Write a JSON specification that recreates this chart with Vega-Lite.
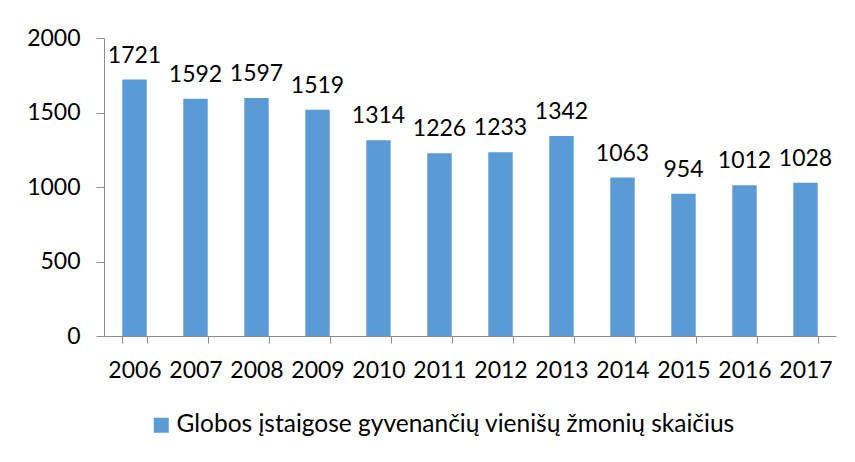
{
  "$schema": "https://vega.github.io/schema/vega-lite/v6.json",
  "autosize": {"type": "none"},
  "width": 732,
  "height": 298,
  "padding": {"left": 104, "top": 38, "right": 19, "bottom": 126},
  "background": "white",
  "config": {
    "font": "Lato",
    "view": {"stroke": null}
  },
  "data": {
    "values": [
      {"year": "2006", "value": 1721, "series": "Globos įstaigose gyvenančių vienišų žmonių skaičius"},
      {"year": "2007", "value": 1592, "series": "Globos įstaigose gyvenančių vienišų žmonių skaičius"},
      {"year": "2008", "value": 1597, "series": "Globos įstaigose gyvenančių vienišų žmonių skaičius"},
      {"year": "2009", "value": 1519, "series": "Globos įstaigose gyvenančių vienišų žmonių skaičius"},
      {"year": "2010", "value": 1314, "series": "Globos įstaigose gyvenančių vienišų žmonių skaičius"},
      {"year": "2011", "value": 1226, "series": "Globos įstaigose gyvenančių vienišų žmonių skaičius"},
      {"year": "2012", "value": 1233, "series": "Globos įstaigose gyvenančių vienišų žmonių skaičius"},
      {"year": "2013", "value": 1342, "series": "Globos įstaigose gyvenančių vienišų žmonių skaičius"},
      {"year": "2014", "value": 1063, "series": "Globos įstaigose gyvenančių vienišų žmonių skaičius"},
      {"year": "2015", "value": 954, "series": "Globos įstaigose gyvenančių vienišų žmonių skaičius"},
      {"year": "2016", "value": 1012, "series": "Globos įstaigose gyvenančių vienišų žmonių skaičius"},
      {"year": "2017", "value": 1028, "series": "Globos įstaigose gyvenančių vienišų žmonių skaičius"}
    ]
  },
  "encoding": {
    "x": {
      "field": "year",
      "type": "nominal",
      "scale": {"paddingInner": 0.6, "paddingOuter": 0.3},
      "axis": {
        "title": null,
        "labelAngle": 0,
        "labelFontSize": 23,
        "labelColor": "#000000",
        "labelPadding": 16,
        "tickBand": "extent",
        "tickSize": 7,
        "tickColor": "#8c8c8c",
        "domainColor": "#8c8c8c",
        "labelFont": "Lato"
      }
    },
    "y": {
      "field": "value",
      "type": "quantitative",
      "scale": {"domain": [0, 2000]},
      "axis": {
        "title": null,
        "values": [0, 500, 1000, 1500, 2000],
        "format": "d",
        "grid": false,
        "labelFontSize": 23,
        "labelColor": "#000000",
        "labelPadding": 16,
        "tickSize": 8,
        "tickColor": "#8c8c8c",
        "domainColor": "#8c8c8c",
        "labelFont": "Lato"
      }
    }
  },
  "layer": [
    {
      "mark": {"type": "bar", "color": "#5B9BD5"},
      "encoding": {
        "fill": {
          "field": "series",
          "type": "nominal",
          "scale": {"range": ["#5B9BD5"]},
          "legend": {
            "title": null,
            "orient": "none",
            "legendX": 45,
            "legendY": 375,
            "padding": 0,
            "symbolType": "square",
            "symbolSize": 225,
            "symbolStrokeWidth": 0,
            "labelFontSize": 24.5,
            "labelColor": "#000000",
            "labelFont": "Lato",
            "labelOffset": 3,
            "labelLimit": 800
          }
        }
      }
    },
    {
      "mark": {"type": "text", "baseline": "alphabetic", "dy": -17, "fontSize": 23, "color": "#000000", "font": "Lato"},
      "encoding": {
        "text": {"field": "value", "type": "quantitative", "format": "d"}
      }
    }
  ]
}
